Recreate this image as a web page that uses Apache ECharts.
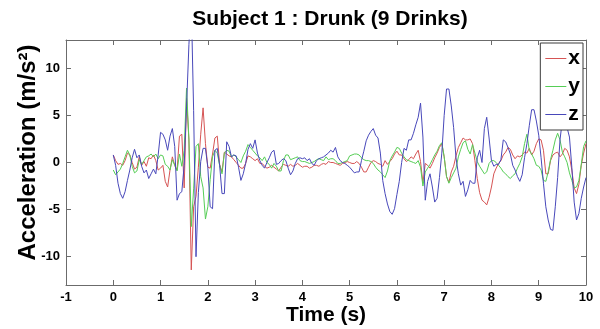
<!DOCTYPE html>
<html>
<head>
<meta charset="utf-8">
<title>Subject 1 : Drunk (9 Drinks)</title>
<script src="https://cdn.jsdelivr.net/npm/echarts@6/dist/echarts.min.js"></script>
<style>
  html, body { margin: 0; padding: 0; background: #fff; }
  #chart { width: 600px; height: 329px; }
</style>
</head>
<body>
<div id="chart"></div>
<script>
// Accelerometer trace, sampled every 0.05 s from 0 to 10 s (201 samples per axis)
const SAMPLE_STEP = 0.05;

const seriesNames = ['x', 'y', 'z'];
const xTickValues = [-1, 0, 1, 2, 3, 4, 5, 6, 7, 8, 9, 10];
const yTickValues = [-10, -5, 0, 5, 10];

// acceleration along x (m/s^2)
const accX = [
  0.8, 0.2, -0.2, -0.1, -0.3, 0.2, 1.0, 0.8, 0.0, -0.7, -0.5, 0.6, -0.3, 0.1, -0.4, 0.5, 0.4, 0.8, 0.2, -0.8,
  -0.6, -0.3, -2.0, -2.6, -0.8, 0.6, -0.3, -0.8, 2.8, 3.0, -2.7, 6.8, 2.4, -11.4, -4.7, -3.6, -0.5, 3.0, 5.8, 2.0,
  -0.5, -0.6, 0.9, 2.6, 2.8, -0.2, -1.0, 1.1, 0.9, 0.7, 0.6, 0.3, 0.0, -0.3, -0.6, -0.6, -0.1, 0.7, 0.6, 0.4,
  0.2, 0.4, -0.1, -0.1, -0.4, -0.6, -0.5, -0.3, -0.5, -0.7, -0.9, -0.5, -0.2, -0.3, -0.4, -0.2, -0.4, -0.3, -0.1, -0.3,
  -0.5, -0.4, -0.4, -0.6, -0.5, -0.3, -0.3, -0.4, -0.2, -0.1, -0.2, 0.1, 0.0, 0.0, -0.1, -0.2, -0.3, -0.1, 0.0, 0.1,
  0.0, -0.1, -0.1, 0.1, -0.1, -0.5, -1.0, -1.0, -0.5, 0.0, 0.2, 0.1, -0.1, -0.2, -0.4, 0.2, -0.2, 0.1, 0.4, 0.9,
  1.2, 0.8, 0.8, 0.4, 0.1, 0.3, 0.6, 0.4, 0.9, 1.3, 0.1, -2.2, -0.1, -0.3, -0.6, -0.1, 0.5, 1.0, 1.6, 2.0,
  0.6, -1.5, -2.1, -1.0, -0.4, 0.7, 1.6, 2.1, 2.6, 2.4, 2.4, 2.5, 2.0, 0.2, -1.7, -3.2, -4.0, -4.2, -4.5, -3.7,
  -2.6, -1.2, -0.6, -0.1, 0.2, 0.8, 1.1, 1.6, 1.4, 0.8, 0.4, 0.7, 0.6, 0.8, 1.1, 1.0, 1.5, 0.8, 1.2, 2.0,
  2.5, 2.4, 1.3, -1.2, -1.2, 0.2, 0.8, 1.0, 1.1, 0.6, 0.9, 1.5, 1.3, 0.6, -0.8, -2.7, -3.3, -2.3, -0.3, 1.0,
  2.0
];

// acceleration along y (m/s^2)
const accY = [
  -0.8, -1.3, -1.0, -0.7, -0.1, 0.6, 1.3, 0.8, -0.4, -1.1, -0.9, 0.3, -0.2, 0.2, 0.6, 0.7, 0.9, 0.6, 0.9, 0.4,
  0.8, 0.7, -0.2, -0.4, -0.8, 0.3, -0.3, -0.9, 0.9, -0.4, 1.3, 7.9, 2.5, -6.8, -2.8, 1.7, 2.0, -1.5, -2.7, -6.0,
  -4.7, -1.8, 0.6, 1.3, 1.0, -0.3, -1.2, 1.0, 1.3, 1.2, 0.6, 0.8, 0.6, 0.3, 0.0, 0.7, 1.2, 1.9, 1.6, 1.3,
  1.0, 0.7, 0.5, 0.2, 0.6, 0.0, -0.2, -0.6, -0.1, -0.4, -0.9, -0.9, 0.2, 0.8, 0.8, 0.3, 0.4, 0.5, 0.6, 0.2,
  0.1, 0.1, 0.0, -0.1, 0.0, 0.1, 0.3, 0.4, 0.3, 0.2, 0.6, 0.3, 0.4, 0.4, 0.2, -0.1, -0.1, 0.0, 0.1, 0.2,
  0.7, 0.8, 0.9, 0.9, 0.8, 0.5, 0.3, 0.2, 0.2, 0.1, -0.1, -0.5, -0.8, -1.0, -1.3, -1.6, -0.9, 0.2, 0.7, 1.1,
  1.6, 1.5, 1.0, 0.6, 0.3, 0.2, 0.1, 0.0, -0.1, 0.2, -0.5, -2.5, -1.0, -0.6, -0.2, 0.3, 0.8, 1.2, 1.8, 2.1,
  0.6, -1.5, -2.2, -1.6, -1.1, -0.6, 0.6, 1.4, 2.1, 2.3, 1.4, 0.9, 1.9, 1.0, 0.1, -0.4, -0.8, -1.2, -1.0, -0.1,
  0.2, 0.2, 0.0, -0.3, -0.6, -1.0, -1.2, -1.5, -1.7, -1.4, -1.2, -0.6, -0.1, 0.6, 2.0, 3.0, 1.3, 0.9, 0.4, -0.3,
  -0.4, -0.8, -1.9, -2.0, -1.0, 0.3, 1.3, 2.4, 3.1, 2.4, 1.1, 0.6, 0.0, -1.1, -1.9, -2.7, -2.6, -1.9, -0.2, 1.7,
  2.3
];

// acceleration along z (m/s^2); the spike near 1.65 s runs past the top of the axis
const accZ = [
  0.8, -0.3, -2.2, -3.3, -3.8, -3.1, -1.9, -0.8, 0.5, 1.4, 0.5, 0.8, -0.4, -1.1, -0.8, -1.7, -1.2, -0.7, -1.2, 0.8,
  3.2, 3.0, 2.4, 1.3, 2.8, 3.6, 1.7, -4.0, -3.3, -3.1, -0.3, 5.9, 12.5, 17.0, 5.5, -10.0, -3.2, 0.1, 1.5, 1.5,
  -0.5, -4.7, -4.9, 1.3, 1.5, -0.3, -3.3, -3.3, 2.2, 1.7, 0.6, 0.8, 0.7, -0.5, -1.9, -1.2, -0.1, 1.4, 2.0, 1.5,
  2.4, 1.0, 0.2, -0.3, -0.6, 0.0, 0.5, 1.1, 1.3, -0.2, -0.1, 0.2, 0.4, 0.2, -0.6, -1.3, -0.9, -0.1, 0.4, 0.5,
  0.4, 0.5, 0.2, 0.4, -0.1, -0.3, 0.2, 0.4, 0.5, 0.6, 0.8, 1.0, 1.3, 1.1, 1.6, 0.6, 0.2, 0.0, -0.1, -0.3,
  -0.5, -0.8, -1.1, -1.0, -1.0, 0.2, 1.2, 2.3, 2.9, 3.3, 3.6, 2.9, 2.6, 1.0, -1.9, -3.3, -4.4, -5.2, -5.5, -4.9,
  -3.4, -2.0, 0.0, 1.5, 1.3, 2.4, 2.4, 3.1, 4.0, 4.8, 6.3, 2.7, -4.0, -2.0, -1.2, -2.6, -4.2, -3.8, -1.6, 1.0,
  5.0, 7.8, 7.8, 6.0, 3.7, 0.5, -1.2, -2.4, -2.0, -3.6, -2.9, -1.9, -2.2, -2.2, 0.5, 1.3, 0.0, 3.6, 4.8, 2.6,
  0.2, -0.4, -0.2, -0.2, 0.3, 2.4, 2.2, 1.6, 0.9, -0.3, -0.8, -1.5, -2.0, -1.3, 0.5, 2.0, 3.9, 5.6, 5.6, 4.4,
  2.9, 0.5, -2.2, -4.7, -6.1, -7.1, -7.2, -4.7, -1.6, 2.4, 4.5, 5.3, 3.7, 2.7, -0.5, -4.2, -6.1, -5.4, -3.8, -2.6,
  -1.6
];

const seriesColors = ['rgb(214,84,84)', 'rgb(86,206,86)', 'rgb(72,72,186)'];
const FONT = "'Liberation Sans', Arial, Helvetica, sans-serif";

function toPairs(values) {
  return values.map((v, i) => [Math.round(i * SAMPLE_STEP * 100) / 100, v]);
}

const chart = echarts.init(document.getElementById('chart'), null, { renderer: 'canvas' });

const axisLineStyle = { color: '#6b6b6b', width: 1 };
const frameTick = { show: true, inside: true, length: 5, lineStyle: axisLineStyle };

chart.setOption({
  backgroundColor: '#ffffff',
  animation: false,
  title: {
    text: 'Subject 1 : Drunk (9 Drinks)',
    left: 325,
    textAlign: 'center',
    top: 4,
    textStyle: { fontFamily: FONT, fontWeight: 'bold', fontSize: 21, color: '#000' }
  },
  grid: { left: 66, right: 14, top: 40, bottom: 44, containLabel: false, outerBoundsMode: 'none' },
  legend: {
    orient: 'vertical',
    right: 17,
    top: 43,
    padding: [5, 3, 5, 5],
    icon: 'rect',
    itemWidth: 21,
    itemHeight: 1,
    itemGap: 7,
    borderColor: '#3a3a3a',
    borderWidth: 1,
    backgroundColor: '#ffffff',
    z: 10,
    data: seriesNames,
    textStyle: { fontFamily: FONT, fontWeight: 'bold', fontSize: 21, color: '#000', padding: [0, 0, 0, -3] }
  },
  xAxis: [
    {
      type: 'value',
      min: -1,
      max: 10,
      interval: 1,
      position: 'bottom',
      name: 'Time (s)',
      nameLocation: 'middle',
      nameGap: 20,
      nameMoveOverlap: false,
      nameTextStyle: { fontFamily: FONT, fontWeight: 'bold', fontSize: 21, color: '#000' },
      axisLine: { show: true, onZero: false, lineStyle: axisLineStyle },
      axisTick: frameTick,
      axisLabel: {
        fontFamily: FONT, fontWeight: 'bold', fontSize: 13, color: '#000', margin: 6,
        formatter: v => (xTickValues.includes(v) ? String(v) : '')
      },
      splitLine: { show: false }
    },
    {
      type: 'value',
      min: -1,
      max: 10,
      interval: 1,
      position: 'top',
      axisLine: { show: true, onZero: false, lineStyle: axisLineStyle },
      axisTick: frameTick,
      axisLabel: { show: false },
      splitLine: { show: false }
    }
  ],
  yAxis: [
    {
      type: 'value',
      min: -13,
      max: 13,
      position: 'left',
      name: 'Acceleration (m/s²)',
      nameLocation: 'middle',
      nameGap: 26,
      nameMoveOverlap: false,
      nameTextStyle: {
        fontFamily: FONT, fontWeight: 'bold', fontSize: 24, color: '#000',
        padding: [0, 0, 0, 20]
      },
      axisLine: { show: true, onZero: false, lineStyle: axisLineStyle },
      axisTick: Object.assign({}, frameTick, { customValues: yTickValues }),
      axisLabel: { fontFamily: FONT, fontWeight: 'bold', fontSize: 13, color: '#000', margin: 6, customValues: yTickValues },
      splitLine: { show: false }
    },
    {
      type: 'value',
      min: -13,
      max: 13,
      position: 'right',
      axisLine: { show: true, onZero: false, lineStyle: axisLineStyle },
      axisTick: Object.assign({}, frameTick, { customValues: yTickValues }),
      axisLabel: { show: false },
      splitLine: { show: false }
    }
  ],
  series: [accX, accY, accZ].map((vals, k) => ({
    name: seriesNames[k],
    type: 'line',
    xAxisIndex: 0,
    yAxisIndex: 0,
    data: toPairs(vals),
    symbol: 'none',
    showSymbol: false,
    clip: true,
    smooth: false,
    color: seriesColors[k],
    lineStyle: { color: seriesColors[k], width: 1 },
    emphasis: { disabled: true },
    z: 2 + k
  }))
});
</script>
</body>
</html>
